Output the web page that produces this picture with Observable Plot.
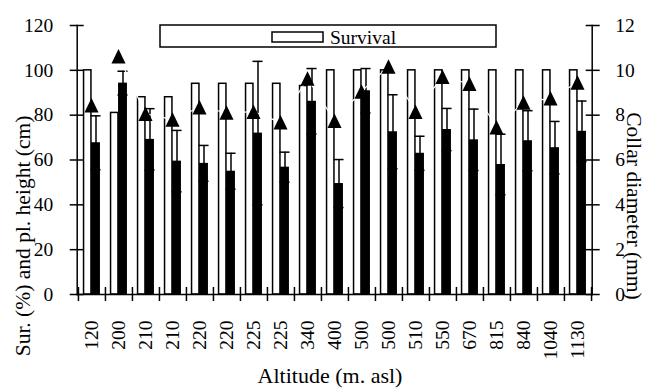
<!DOCTYPE html>
<html>
<head>
<meta charset="utf-8">
<script src="https://cdn.jsdelivr.net/npm/d3@7"></script>
<script src="https://cdn.jsdelivr.net/npm/@observablehq/plot@0.6"></script>
<style>
  html, body { margin: 0; padding: 0; background: white; }
  svg text { font-family: "Liberation Serif", "Tinos", "Times New Roman", "DejaVu Serif", "Noto Serif", serif !important; }
</style>
</head>
<body>
<script>
// ---- data ----
const altitude = ["120","200","210","210","220","220","225","225","340","400","500","500","510","550","670","815","840","1040","1130"];
const survival = [100, 81, 88, 88, 94, 94, 94, 94, 93, 100, 100, 100, 100, 100, 100, 100, 100, 100, 100];
const plantHeight = [67.7, 94.3, 69.2, 59.5, 58.5, 55, 72, 56.8, 86.2, 49.5, 90.9, 72.6, 63, 73.6, 69, 58, 68.6, 65.5, 72.8];
const heightErr = [12, 5.3, 13.7, 13.7, 8, 8, 32, 6.7, 14.6, 10.7, 9.9, 16.5, 7.6, 9.4, 13.7, 13.5, 13.4, 11.7, 13.5];
const collar = [8.44, 10.63, 8.06, 7.81, 8.35, 8.12, 8.15, 7.68, 9.64, 7.75, 9.06, 10.17, 8.15, 9.71, 9.40, 7.46, 8.57, 8.75, 9.46];
const leftTicks = [0, 20, 40, 60, 80, 100, 120];
const rightTicks = [0, 2, 4, 6, 8, 10, 12];

const data = altitude.map((a, i) => ({i, alt: a, s: survival[i], h: plantHeight[i], he: heightErr[i], c: collar[i]}));

const W = 645, H = 388;
const mL = 76.7, mR = 53.3, mT = 25, mB = 94;
const bw = (W - mL - mR) / altitude.length;
const half = bw / 2;
const K = 10; // secondary axis factor (collar mm * 10 -> left units)
const serif = '"Liberation Serif", "Tinos", "Times New Roman", "DejaVu Serif", "Noto Serif", serif';

const tri = {
  draw(ctx, size) {
    const r = Math.sqrt(size / Math.PI);
    const hh = r * 1.08, hw = r * 1.05;
    ctx.moveTo(0, -hh);
    ctx.lineTo(hw, hh);
    ctx.lineTo(-hw, hh);
    ctx.closePath();
  }
};

const plot = Plot.plot({
  width: W,
  height: H,
  marginLeft: mL,
  marginRight: mR,
  marginTop: mT,
  marginBottom: mB,
  style: {fontFamily: serif, fontSize: "19.5px", background: "white", color: "black", overflow: "visible"},
  x: {type: "band", domain: data.map(d => d.i), padding: 0},
  y: {domain: [0, 120], range: [H - mB, mT]},
  marks: [
    // survival bars (white, outlined)
    Plot.barY(data, {x: "i", y: "s", fill: "white", stroke: "black", strokeWidth: 1.5, insetLeft: half - 8, insetRight: half + 0.5}),
    // plant height bars (black)
    Plot.barY(data, {x: "i", y: "h", fill: "black", insetLeft: half - 0.5, insetRight: half - 8.5}),
    // plant height error bars
    Plot.ruleX(data, {x: "i", y1: d => d.h - d.he, y2: d => d.h + d.he, dx: 4, stroke: "black", strokeWidth: 1.5}),
    Plot.tickY(data, {x: "i", y: d => d.h + d.he, insetLeft: half - 1.1, insetRight: half - 9.1, stroke: "black", strokeWidth: 1.5}),
    Plot.tickY(data, {x: "i", y: d => d.h - d.he, insetLeft: half - 1.1, insetRight: half - 9.1, stroke: "black", strokeWidth: 1.5}),
    // hidden (white) connector of collar diameter series
    Plot.line(data, {x: "i", y: d => d.c * K, stroke: "white", strokeWidth: 1.2, dx: -0.5}),
    // collar diameter markers
    Plot.dot(data, {x: "i", y: d => d.c * K, symbol: tri, r: 6.7, fill: "black", stroke: "none", dx: -0.5}),
    // axis lines
    Plot.frame({anchor: "left", stroke: "black", strokeWidth: 1.5}),
    Plot.frame({anchor: "right", stroke: "black", strokeWidth: 1.5}),
    Plot.frame({anchor: "bottom", stroke: "black", strokeWidth: 1.5}),
    // left axis: cross ticks + labels
    Plot.axisY({ticks: leftTicks, tickSize: 14, dx: 7, tickFormat: () => "", label: null, strokeWidth: 1.5}),
    Plot.axisY({ticks: leftTicks, tickSize: 0, tickPadding: 24, tickFormat: d => d, label: null}),
    // right axis: cross ticks + labels (collar diameter, mm)
    Plot.axisY({anchor: "right", ticks: rightTicks.map(v => v * K), tickSize: 14, dx: -7, tickFormat: () => "", label: null, strokeWidth: 1.5}),
    Plot.axisY({anchor: "right", ticks: rightTicks.map(v => v * K), tickSize: 0, tickPadding: 23, tickFormat: v => v / K, label: null}),
    // x axis: cross ticks at category boundaries + rotated labels
    Plot.axisX({tickSize: 14, dx: -half, dy: -7, tickFormat: () => "", label: null, strokeWidth: 1.5}),
    Plot.axisX({ticks: [data.length - 1], tickSize: 14, dx: half, dy: -7, tickFormat: () => "", label: null, strokeWidth: 1.5}),
    Plot.axisX({tickSize: 0, tickPadding: 26, tickRotate: -90, tickFormat: i => altitude[i], label: null})
  ]
});

document.body.append(plot);

// titles and legend
const svg = d3.select(plot);
svg.append("text")
  .attr("transform", "translate(30,236) rotate(-90)")
  .attr("text-anchor", "middle").attr("font-family", serif).attr("font-size", 21.5).attr("fill", "black")
  .text("Sur. (%) and pl. height (cm)");
svg.append("text")
  .attr("transform", "translate(627,206) rotate(90)")
  .attr("text-anchor", "middle").attr("font-family", serif).attr("font-size", 21.5).attr("fill", "black")
  .text("Collar diameter (mm)");
svg.append("text")
  .attr("x", 330).attr("y", 383)
  .attr("text-anchor", "middle").attr("font-family", serif).attr("font-size", 22).attr("fill", "black")
  .text("Altitude (m. asl)");

const lg = svg.append("g");
lg.append("rect").attr("x", 160).attr("y", 25).attr("width", 336).attr("height", 22)
  .attr("fill", "white").attr("stroke", "black").attr("stroke-width", 1.5);
lg.append("rect").attr("x", 272).attr("y", 32).attr("width", 51).attr("height", 10)
  .attr("fill", "white").attr("stroke", "black").attr("stroke-width", 1.5);
lg.append("text").attr("x", 330).attr("y", 43.5)
  .attr("text-anchor", "start")
  .attr("font-family", serif).attr("font-size", 19.5).attr("fill", "black")
  .text("Survival");
</script>
</body>
</html>
